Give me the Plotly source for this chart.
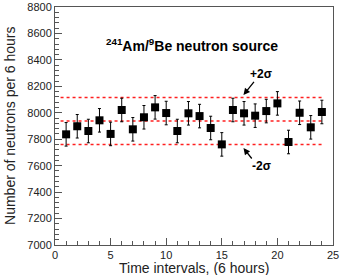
import plotly.graph_objects as go

intervals = list(range(1, 25))
counts = [7837, 7898, 7862, 7943, 7840, 8021, 7875, 7966, 8041, 7998, 7862, 7996,
          7975, 7885, 7761, 8021, 7996, 7978, 8013, 8071, 7779, 8000, 7890, 8006]
errors = [89] * 24
mean_value = 7938
sigma = 89
line_x = [0.5, 24.1]

fig = go.Figure()

for lvl in [mean_value + 2 * sigma, mean_value, mean_value - 2 * sigma]:
    fig.add_trace(go.Scatter(x=line_x, y=[lvl, lvl], mode="lines",
                             line=dict(color="#ff2020", width=1.5, dash="dot"),
                             hoverinfo="skip", showlegend=False))

fig.add_trace(go.Scatter(
    x=intervals, y=counts, mode="markers",
    marker=dict(symbol="square", size=8, color="black"),
    error_y=dict(type="data", array=errors, color="black", thickness=1, width=1.5),
    showlegend=False))

font = "Liberation Sans, Arial, sans-serif"

fig.add_annotation(x=12.3, y=8515, xref="x", yref="y", showarrow=False,
                   text="<b><sup>241</sup>Am/<sup>9</sup>Be neutron source</b>",
                   font=dict(family=font, size=14, color="black"))
# +2 sigma
fig.add_annotation(x=16.95, y=8135, ax=18.0, ay=8245, xref="x", yref="y",
                   axref="x", ayref="y", text="", showarrow=True,
                   arrowhead=2, arrowsize=1, arrowwidth=1.3, arrowcolor="black")
fig.add_annotation(x=18.5, y=8290, xref="x", yref="y", showarrow=False,
                   text="<b>+2σ</b>", font=dict(family=font, size=12, color="black"))
# -2 sigma
fig.add_annotation(x=16.95, y=7733, ax=17.8, ay=7643, xref="x", yref="y",
                   axref="x", ayref="y", text="", showarrow=True,
                   arrowhead=2, arrowsize=1, arrowwidth=1.3, arrowcolor="black")
fig.add_annotation(x=18.6, y=7597, xref="x", yref="y", showarrow=False,
                   text="<b>-2σ</b>", font=dict(family=font, size=12, color="black"))

# axis titles
fig.add_annotation(x=0.5, y=-0.095, xref="paper", yref="paper", showarrow=False,
                   text="Time intervals, (6 hours)", yanchor="middle",
                   font=dict(family=font, size=14, color="#222222"))
fig.add_annotation(x=-0.162, y=0.5, xref="paper", yref="paper", showarrow=False,
                   text="Number of neutrons per 6 hours", textangle=-90,
                   xanchor="center", yanchor="middle",
                   font=dict(family=font, size=14, color="#222222"))

fig.update_layout(
    width=347, height=275,
    margin=dict(l=55, r=14, t=7, b=30),
    plot_bgcolor="white", paper_bgcolor="white",
    font=dict(family=font, size=11, color="#222222"),
)
fig.update_xaxes(
    range=[0, 25], tickmode="linear", tick0=0, dtick=5,
    ticks="inside", ticklen=7, tickcolor="#555555",
    minor=dict(ticks="inside", dtick=1, ticklen=4, tickcolor="#555555"),
    showgrid=False, zeroline=False, automargin=False,
    showline=True, linecolor="#555555", linewidth=1, mirror=True,
    tickfont=dict(size=11), ticklabelstandoff=0,
)
fig.update_yaxes(
    range=[7000, 8800], tickmode="linear", tick0=7000, dtick=200,
    ticks="inside", ticklen=7, tickcolor="#555555",
    minor=dict(ticks="inside", dtick=40, ticklen=4, tickcolor="#555555"),
    showgrid=False, zeroline=False, automargin=False,
    showline=True, linecolor="#555555", linewidth=1, mirror=True,
    tickfont=dict(size=11),
)

fig.write_html("out.html", config={"displayModeBar": False},
               post_script="document.body.style.margin='0';")
